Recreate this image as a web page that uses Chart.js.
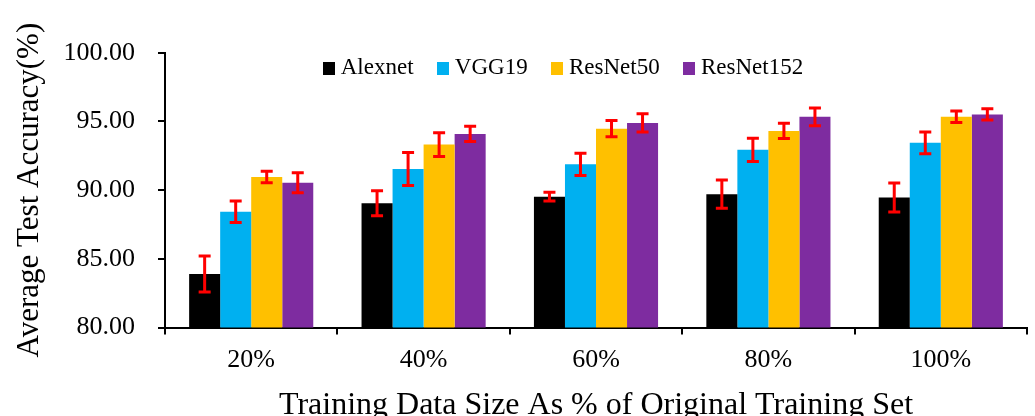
<!DOCTYPE html>
<html>
<head>
<meta charset="utf-8">
<script src="https://cdn.jsdelivr.net/npm/chart.js@4.4.1/dist/chart.umd.min.js"></script>
<style>
  html, body { margin: 0; padding: 0; background: #ffffff; overflow: hidden; }
  canvas { display: block; }
</style>
</head>
<body>
<canvas id="chart" width="1035" height="416"></canvas>
<script>
// Training-set sizes on the x axis
const categories = ['20%', '40%', '60%', '80%', '100%'];

// Mean test accuracy (%) per model, and the half-width of each error bar
const alexnet   = [83.89, 89.04, 89.52, 89.70, 89.46];
const alexnetErr = [1.31, 0.91, 0.32, 1.03, 1.05];
const vgg19     = [88.43, 91.53, 91.88, 92.93, 93.44];
const vgg19Err  = [0.78, 1.20, 0.81, 0.84, 0.79];
const resnet50  = [90.96, 93.31, 94.47, 94.31, 95.34];
const resnet50Err = [0.42, 0.87, 0.59, 0.56, 0.42];
const resnet152 = [90.54, 94.09, 94.89, 95.33, 95.51];
const resnet152Err = [0.73, 0.56, 0.66, 0.65, 0.41];

// Y axis range and tick step
const yMin = 80, yMax = 100, yStep = 5;

const SERIF = "'Liberation Serif', 'Times New Roman', serif";
const colors = ['#000000', '#00B0F0', '#FFC000', '#7E2CA0'];

// Small filled squares used as legend swatches
function swatch(color) {
  const c = document.createElement('canvas');
  c.width = 12; c.height = 13;
  const g = c.getContext('2d');
  g.fillStyle = color;
  g.fillRect(0, 0, 12, 13);
  return c;
}
const swatches = colors.map(swatch);

// Red whiskers drawn on top of each bar
const errorBars = {
  id: 'errorBars',
  afterDatasetsDraw(chart) {
    const { ctx } = chart;
    const yScale = chart.scales.y;
    ctx.save();
    ctx.strokeStyle = '#FF0000';
    ctx.lineWidth = 3;
    ctx.lineCap = 'butt';
    chart.data.datasets.forEach((ds, di) => {
      const meta = chart.getDatasetMeta(di);
      meta.data.forEach((bar, i) => {
        const v = ds.data[i], e = ds.errors[i];
        const yHi = yScale.getPixelForValue(v + e);
        const yLo = yScale.getPixelForValue(v - e);
        const x = bar.x, cap = 6;
        ctx.beginPath();
        ctx.moveTo(x, yHi); ctx.lineTo(x, yLo);
        ctx.moveTo(x - cap, yHi); ctx.lineTo(x + cap, yHi);
        ctx.moveTo(x - cap, yLo); ctx.lineTo(x + cap, yLo);
        ctx.stroke();
      });
    });
    ctx.restore();
  }
};

// The legend row sits right of the canvas centre and overlaps the top of the plot;
// its box is widened downward so the clipped legend area holds the items.
const legendShift = {
  id: 'legendShift',
  afterLayout(chart) {
    const lg = chart.legend;
    if (lg) {
      lg.left += 52.6;
      lg.right += 52.6;
      lg.bottom = lg.top + 80;
      lg.height = 80;
    }
  }
};

const series = [
  { label: 'Alexnet',   data: alexnet,   errors: alexnetErr },
  { label: 'VGG19',     data: vgg19,     errors: vgg19Err },
  { label: 'ResNet50',  data: resnet50,  errors: resnet50Err },
  { label: 'ResNet152', data: resnet152, errors: resnet152Err }
];

new Chart(document.getElementById('chart'), {
  type: 'bar',
  data: {
    labels: categories,
    datasets: series.map((s, i) => ({
      label: s.label,
      data: s.data,
      errors: s.errors,
      backgroundColor: colors[i],
      borderWidth: 0,
      categoryPercentage: 0.72,
      barPercentage: 1.0
    }))
  },
  options: {
    responsive: false,
    devicePixelRatio: 1,
    animation: false,
    layout: { padding: { top: 27, left: 0, right: 8, bottom: 0 } },
    plugins: {
      tooltip: { enabled: false },
      legend: {
        position: 'top',
        fullSize: true,
        maxHeight: 25.7,
        labels: {
          font: { family: SERIF, size: 23 },
          color: '#000000',
          usePointStyle: true,
          pointStyleWidth: 0.2,
          padding: 29.6,
          generateLabels(chart) {
            const items = Chart.defaults.plugins.legend.labels.generateLabels(chart);
            return items.map((it, i) => Object.assign(it, { pointStyle: swatches[i] }));
          }
        }
      }
    },
    scales: {
      x: {
        afterFit(scale) { scale.height = 88.5; },
        grid: {
          offset: true,
          drawOnChartArea: false,
          drawTicks: true,
          tickLength: 7,
          color: '#000000',
          lineWidth: 2
        },
        border: { display: true, color: '#000000', width: 2 },
        ticks: {
          font: { family: SERIF, size: 26 },
          color: '#000000',
          padding: 10
        },
        title: {
          display: true,
          text: 'Training Data Size As % of Original Training Set',
          font: { family: SERIF, size: 32, lineHeight: 1 },
          color: '#000000',
          padding: { top: 0, bottom: -5.5 }
        }
      },
      y: {
        min: yMin,
        max: yMax,
        afterFit(scale) { scale.width = 165; },
        grid: {
          drawOnChartArea: false,
          drawTicks: true,
          tickLength: 7,
          color: '#000000',
          lineWidth: 2
        },
        border: { display: true, color: '#000000', width: 2 },
        ticks: {
          stepSize: yStep,
          font: { family: SERIF, size: 26 },
          color: '#000000',
          padding: 23,
          callback: (v) => Number(v).toFixed(2)
        },
        title: {
          display: true,
          text: 'Average Test Accuracy(%)',
          font: { family: SERIF, size: 31, lineHeight: 1 },
          color: '#000000',
          padding: { top: 14, bottom: 0 }
        }
      }
    }
  },
  plugins: [errorBars, legendShift]
});
</script>
</body>
</html>
